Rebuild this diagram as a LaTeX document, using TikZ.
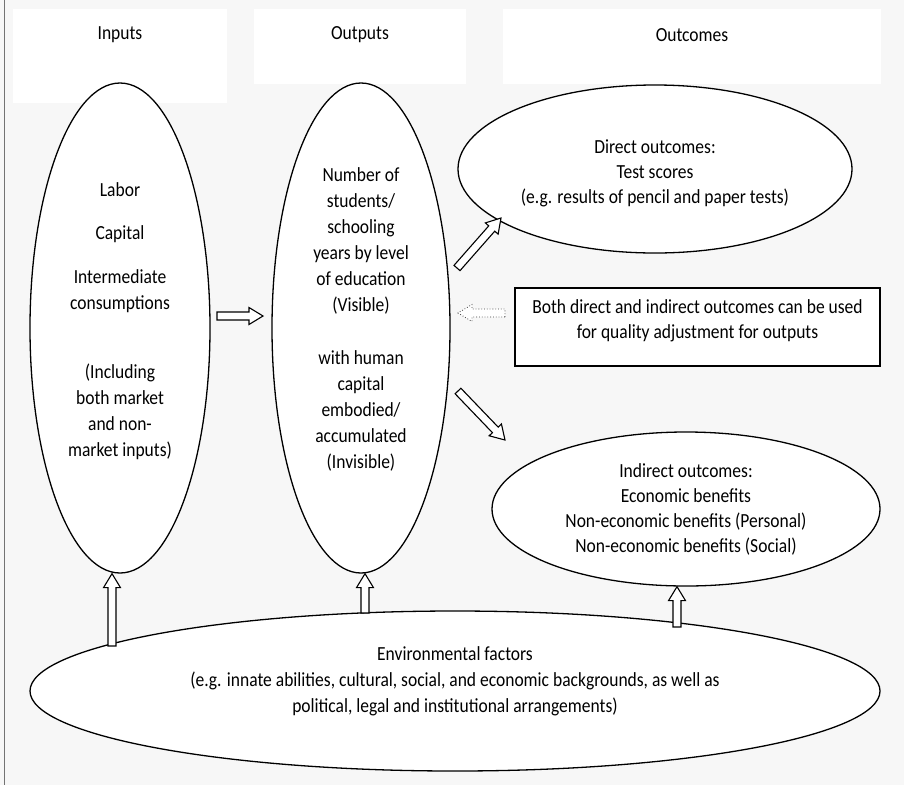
\documentclass[tikz,border=0pt]{standalone}
\usepackage{fontspec}
\setmainfont{Carlito}[FakeStretch=0.875]
\usetikzlibrary{shapes.geometric,calc}
\definecolor{bgc}{HTML}{F7F7F7}
\tikzset{
  oval/.style={ellipse, draw=black, line width=1.3pt, fill=white, inner sep=0pt},
  hdrtxt/.style={font=\fontsize{20}{24}\selectfont, inner sep=0pt},
  bigtxt/.style={align=center, font=\fontsize{20}{26}\selectfont, inner sep=0pt},
  smalltxt/.style={align=center, font=\fontsize{20}{25}\selectfont, inner sep=0pt},
  envtxt/.style={align=center, font=\fontsize{20}{26}\selectfont, inner sep=0pt},
  notebox/.style={draw=black, line width=1.3pt, fill=white, inner sep=0pt},
  blockarr/.style={draw=black, line width=1.1pt, fill=white, line join=miter},
  dotarr/.style={draw=black!75, line width=0.8pt, dotted, fill=white},
}
% block arrow from #2 to #3 (tip)
\newcommand{\blockarrow}[3][blockarr]{%
  \coordinate (bh) at ($(#3)!14pt!(#2)$);
  \path[#1] ($(#2)!4pt!90:(#3)$) -- ($(bh)!4pt!90:(#3)$) -- ($(bh)!8.5pt!90:(#3)$)
    -- (#3) -- ($(bh)!8.5pt!-90:(#3)$) -- ($(bh)!4pt!-90:(#3)$)
    -- ($(#2)!4pt!-90:(#3)$) -- cycle;}
\begin{document}
\begin{tikzpicture}[x=1pt,y=-1pt]
  % background / bounding box
  \fill[bgc] (0,0) rectangle (904,785);
  \useasboundingbox (0,0) rectangle (904,785);
  \draw[black!55, line width=1pt] (4.5,0) -- (4.5,785);

  % header panels
  \fill[white] (13,9) rectangle (227,103);
  \fill[white] (254,9) rectangle (466,84);
  \fill[white] (503,9) rectangle (881,84);
  \node[hdrtxt] (hIn)  at (120,35) {Inputs};
  \node[hdrtxt] (hOut) at (360,35) {Outputs};
  \node[hdrtxt] (hOc)  at (692,35) {Outcomes};

  % ellipses
  \node[oval, minimum width=180pt, minimum height=490pt] (inE) at (120,328) {};
  \node[bigtxt] (inT) at (120,321.5) {Labor\\[17pt]Capital\\[18pt]Intermediate\\consumptions\\[43pt](Including\\both market\\and non-\\market inputs)};

  \node[oval, minimum width=178pt, minimum height=490pt] (outE) at (361,328) {};
  \node[bigtxt] (outT) at (361,319.5) {Number of\\students/\\schooling\\years by level\\of education\\(Visible)\\[27pt]with human\\capital\\embodied/\\accumulated\\(Invisible)};

  \node[oval, minimum width=394pt, minimum height=168pt] (dirE) at (655,169) {};
  \node[smalltxt] (dirT) at (655,173) {Direct outcomes:\\Test scores\\(e.g. results of pencil and paper tests)};

  \node[notebox, minimum width=365pt, minimum height=78pt] (note) at (697.5,327) {};
  \node[smalltxt] (noteT) at (697.5,321) {Both direct and indirect outcomes can be used\\for quality adjustment for outputs};

  \node[oval, minimum width=388pt, minimum height=154pt] (indE) at (686,509) {};
  \node[smalltxt] (indT) at (686,509) {Indirect outcomes:\\Economic benefits\\Non-economic benefits (Personal)\\Non-economic benefits (Social)};

  \node[oval, minimum width=850pt, minimum height=160pt] (envE) at (455,691) {};
  \node[envtxt] (envT) at (455,681) {Environmental factors\\(e.g. innate abilities, cultural, social, and economic backgrounds, as well as\\political, legal and institutional arrangements)};

  % arrow end points
  \coordinate (a1s) at (217,316);  \coordinate (a1e) at (263,316);
  \coordinate (a2s) at (457,268);  \coordinate (a2e) at (501,218);
  \coordinate (a3s) at (458,391);  \coordinate (a3e) at (505,440);
  \coordinate (a4s) at (505,313);  \coordinate (a4e) at (458,313);
  \coordinate (a5s) at (112,646);  \coordinate (a5e) at (inE.south -| a5s);
  \coordinate (a6s) at (365,613);  \coordinate (a6e) at (outE.south -| a6s);
  \coordinate (a7s) at (677,627);  \coordinate (a7e) at (indE.south -| a7s);

  \blockarrow{a1s}{a1e}
  \blockarrow{a2s}{a2e}
  \blockarrow{a3s}{a3e}
  \blockarrow[dotarr]{a4s}{a4e}
  \blockarrow{a5s}{a5e}
  \blockarrow{a6s}{a6e}
  \blockarrow{a7s}{a7e}
\end{tikzpicture}
\end{document}
